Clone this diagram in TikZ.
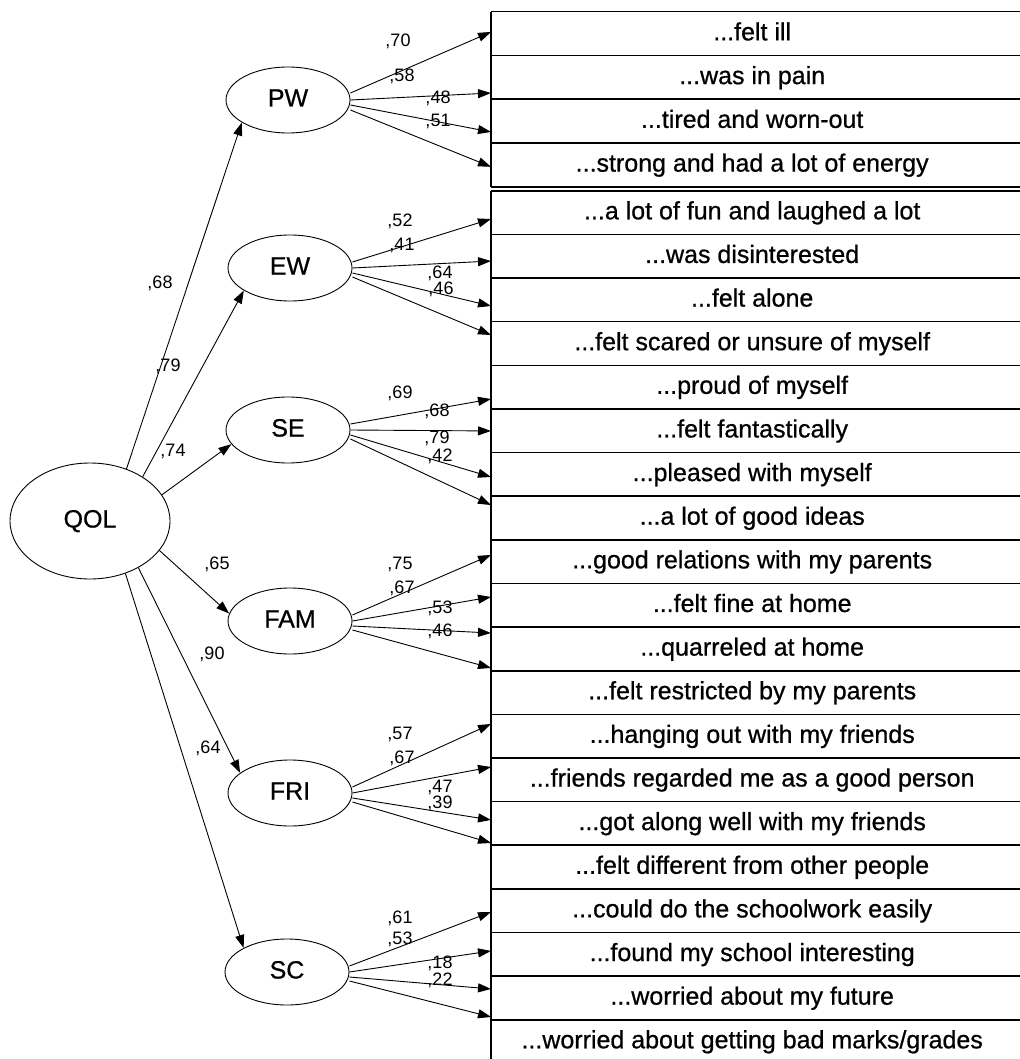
\documentclass[tikz,border=0pt]{standalone}
\usepackage{fontspec}
\setmainfont{Liberation Sans}
\newfontfamily\heavyfont{Liberation Sans}[FakeBold=0.7]
\usetikzlibrary{arrows.meta,shapes.geometric}
\newcommand{\ddd}{...}
\begin{document}
\begin{tikzpicture}[x=1pt,y=-1pt,
  lat/.style={ellipse,draw,line width=0.9pt,minimum width=124pt,minimum height=66pt,inner sep=0pt,
    font=\heavyfont\fontsize{25}{30}\selectfont,text height=18pt,text depth=5pt},
  big/.style={lat,minimum width=160pt,minimum height=116pt},
  obs/.style={anchor=west,minimum width=522pt,inner sep=0pt,
    font=\heavyfont\fontsize{25}{30}\selectfont,text height=18pt,text depth=5pt},
  lab/.style={inner sep=0pt,font=\fontsize{18}{20}\selectfont,text height=13pt,text depth=0pt},
  arr/.style={line width=0.9pt,-{Triangle[length=13pt,width=9pt]}},
  hline/.style={line width=1.6pt},
  vline/.style={line width=1.2pt}
]
\useasboundingbox (0,0) rectangle (1019,1059);

% indicator rows
\foreach \t [count=\i] in {{\ddd felt ill},{\ddd was in pain},{\ddd tired and worn-out},{\ddd strong and had a lot of energy}}
  \node[obs,minimum height=43.75pt] (r\i) at (491,{12+43.75*(\i-0.5)}) {\t};
\foreach \t [count=\j from 5] in {{\ddd a lot of fun and laughed a lot},{\ddd was disinterested},{\ddd felt alone},{\ddd felt scared or unsure of myself},
  {\ddd proud of myself},{\ddd felt fantastically},{\ddd pleased with myself},{\ddd a lot of good ideas},
  {\ddd good relations with my parents},{\ddd felt fine at home},{\ddd quarreled at home},{\ddd felt restricted by my parents},
  {\ddd hanging out with my friends},{\ddd friends regarded me as a good person},{\ddd got along well with my friends},{\ddd felt different from other people},
  {\ddd could do the schoolwork easily},{\ddd found my school interesting},{\ddd worried about my future},{\ddd worried about getting bad marks/grades}}
  \node[obs,minimum height=43.63pt] (r\j) at (491,{191+43.63*(\j-4.5)}) {\t};

\draw[line width=1pt] (r1.north west) -- ++(540,0);
\foreach \i in {2,...,24} \draw[hline] (r\i.north west) -- ++(540,0);
\draw[hline] (r4.south west) -- ++(540,0);
\draw[vline] (r1.north west) -- (r4.south west);
\draw[vline] (r5.north west) -- (r24.south west);

% latent variables
\node[big] (QOL) at (90,521) {QOL};
\node[lat] (PW) at (288,100) {PW};
\node[lat] (EW) at (290,268) {EW};
\node[lat] (SE) at (288,430) {SE};
\node[lat] (FAM) at (290,621) {FAM};
\node[lat] (FRI) at (290,793) {FRI};
\node[lat] (SC) at (287,972) {SC};

% structural paths
\draw[arr] (QOL.55) -- (PW.206);
\draw[arr] (QOL.40) -- (EW.206);
\draw[arr] (QOL.20) -- (SE.194);
\draw[arr] (QOL.-23) -- (FAM.173);
\draw[arr] (QOL.-44) -- (FRI.158);
\draw[arr] (QOL.-56) -- (SC.151);

% measurement paths
\draw[arr] ([yshift=7pt]PW.east) -- ([yshift=1.9pt]r1.west);
\draw[arr] (PW.east) -- ([yshift=-15.4pt]r2.west);
\draw[arr] ([yshift=-5pt]PW.east) -- ([yshift=-10.6pt]r3.west);
\draw[arr] ([yshift=-10pt]PW.east) -- ([yshift=-1.7pt]r4.west);

\draw[arr] ([yshift=6pt]EW.east) -- ([yshift=-6.2pt]r5.west);
\draw[arr] (EW.east) -- ([yshift=-4.6pt]r6.west);
\draw[arr] ([yshift=-5pt]EW.east) -- ([yshift=-5.9pt]r7.west);
\draw[arr] ([yshift=-9pt]EW.east) -- ([yshift=8.7pt]r8.west);

\draw[arr] ([yshift=6pt]SE.east) -- ([yshift=-11.7pt]r9.west);
\draw[arr] (SE.east) -- (r10.west);
\draw[arr] ([yshift=-5pt]SE.east) -- ([yshift=-2.4pt]r11.west);
\draw[arr] ([yshift=-9pt]SE.east) -- ([yshift=13.2pt]r12.west);

\draw[arr] ([yshift=6pt]FAM.east) -- ([yshift=6.9pt]r13.west);
\draw[arr] (FAM.east) -- ([yshift=8.5pt]r14.west);
\draw[arr] ([yshift=-5pt]FAM.east) -- ([yshift=16.1pt]r15.west);
\draw[arr] ([yshift=-9pt]FAM.east) -- ([yshift=24.8pt]r16.west);

\draw[arr] ([yshift=6pt]FRI.east) -- ([yshift=12.4pt]r17.west);
\draw[arr] (FRI.east) -- ([yshift=13pt]r18.west);
\draw[arr] ([yshift=-5pt]FRI.east) -- ([yshift=3.7pt]r19.west);
\draw[arr] ([yshift=-9pt]FRI.east) -- ([yshift=24.3pt]r20.west);

\draw[arr] ([yshift=6pt]SC.east) -- ([yshift=-1.1pt]r21.west);
\draw[arr] (SC.east) -- ([yshift=3.6pt]r22.west);
\draw[arr] ([yshift=-5pt]SC.east) -- ([yshift=9.2pt]r23.west);
\draw[arr] ([yshift=-9pt]SC.east) -- ([yshift=24.8pt]r24.west);

% coefficient labels
\node[lab] (a1) at (160,282) {,68};
\node[lab] (a2) at (168,365) {,79};
\node[lab] (a3) at (173,450) {,74};
\node[lab] (a4) at (217,563) {,65};
\node[lab] (a5) at (212,653) {,90};
\node[lab] (a6) at (208,747) {,64};

\node[lab] (b1) at (398,40) {,70};
\node[lab] (b2) at (402,75) {,58};
\node[lab] (b3) at (438,97) {,48};
\node[lab] (b4) at (438,120) {,51};

\node[lab] (c1) at (400,220) {,52};
\node[lab] (c2) at (402,244) {,41};
\node[lab] (c3) at (440,272) {,64};
\node[lab] (c4) at (441,288) {,46};

\node[lab] (d1) at (400,392) {,69};
\node[lab] (d2) at (437,410) {,68};
\node[lab] (d3) at (437,437) {,79};
\node[lab] (d4) at (440,455) {,42};

\node[lab] (e1) at (400,563) {,75};
\node[lab] (e2) at (402,587) {,67};
\node[lab] (e3) at (440,607) {,53};
\node[lab] (e4) at (440,630) {,46};

\node[lab] (f1) at (400,733) {,57};
\node[lab] (f2) at (402,757) {,67};
\node[lab] (f3) at (440,786) {,47};
\node[lab] (f4) at (440,802) {,39};

\node[lab] (g1) at (400,917) {,61};
\node[lab] (g2) at (400,938) {,53};
\node[lab] (g3) at (440,962) {,18};
\node[lab] (g4) at (440,979) {,22};
\end{tikzpicture}
\end{document}
